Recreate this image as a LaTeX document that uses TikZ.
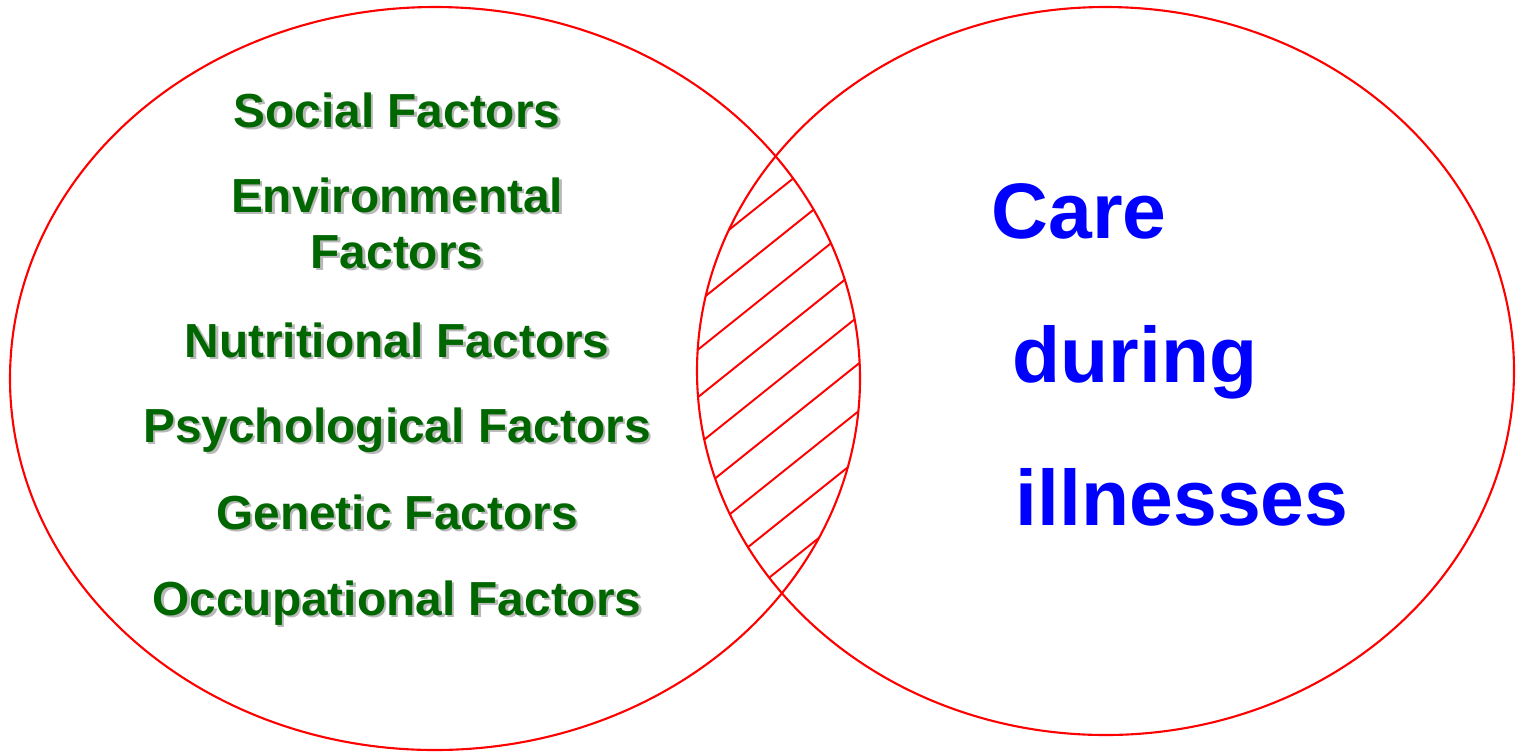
\documentclass[tikz,border=0pt]{standalone}
\usepackage{fontspec}
\setmainfont{Liberation Sans}
\definecolor{factorgreen}{RGB}{0,102,0}
\definecolor{careblue}{RGB}{0,0,255}
\newcommand{\shadowed}[1]{\makebox[0pt][l]{\kern0.025cm\raisebox{-0.025cm}{\color{black!28}#1}}#1}
\tikzset{
  ring/.style={draw=red, line width=0.6pt},
  hatch/.style={draw=red, line width=0.55pt},
  factor/.style={anchor=base, text=factorgreen, font=\fontsize{13.6}{16}\selectfont\bfseries, inner sep=0pt},
  care/.style={anchor=base west, text=careblue, font=\fontsize{22.4}{26}\selectfont\bfseries, inner sep=0pt}
}
\begin{document}
\begin{tikzpicture}
    \useasboundingbox (0,0) rectangle (15.16,7.52);

    % Draw the two circles
    \draw[ring] (4.35,3.735) ellipse (4.25 and 3.715);
    \draw[ring] (11.055,3.81) ellipse (4.085 and 3.64);

    % Hatch the overlap
    \begin{scope}
        \clip (4.35,3.735) ellipse (4.25 and 3.715);
        \clip (11.055,3.81) ellipse (4.085 and 3.64);
        \foreach \k in {-8,...,8}
            \draw[hatch] (6.9,{3.485+0.475*\k}) -- (8.7,{4.925+0.475*\k});
    \end{scope}

    % Factors in the left circle
    \node[factor] (social) at (3.97,6.25) {\shadowed{Social Factors}};
    \node[factor] (environ) at (3.97,5.40) {\shadowed{Environmental}};
    \node[factor] (environb) at (3.97,4.84) {\shadowed{Factors}};
    \node[factor] (nutri) at (3.97,3.95) {\shadowed{Nutritional Factors}};
    \node[factor] (psycho) at (3.97,3.10) {\shadowed{Psychological Factors}};
    \node[factor] (genetic) at (3.97,2.23) {\shadowed{Genetic Factors}};
    \node[factor] (occup) at (3.97,1.37) {\shadowed{Occupational Factors}};

    % Text in the right circle
    \node[care] (care) at (9.91,5.14) {Care};
    \node[care] (during) at (10.12,3.70) {during};
    \node[care] (ill) at (10.15,2.27) {illnesses};
\end{tikzpicture}
\end{document}
